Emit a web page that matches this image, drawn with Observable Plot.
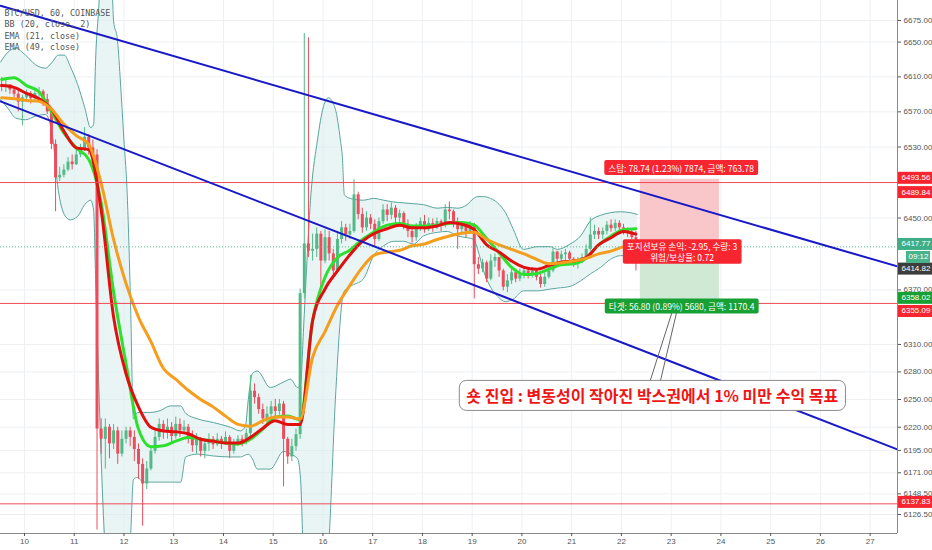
<!DOCTYPE html>
<html><head><meta charset="utf-8">
<script src="https://cdn.jsdelivr.net/npm/d3@7"></script>
<script src="https://cdn.jsdelivr.net/npm/@observablehq/plot@0.6"></script>
<style>body{margin:0;background:#fff;}</style>
</head><body><div id="chart"></div>
<script>
// ---------- axes ----------
const xTicks = [10,11,12,13,14,15,16,17,18,19,20,21,22,23,24,25,26,27];
const yTicks = [6675,6650,6610,6570,6530,6450,6370,6310,6280,6250,6220,6195,6171,6148.5,6126.5];
const xDomain = [9.518, 27.55];
const yDomain = [6106.3, 6698.2];

// ---------- BTC/USD candles (2h, July, day units) ----------
const candleStart = 9.5, candleStep = 1/12;
const open0 = 6601;
const closes = [
6598,6601,6595,6590,6581,6586,6591,6585,6591,6593,6584,6570,
6533,6495,6498,6504,6513,6510,6521,6527,6541,6529,6521,6218,
6207,6220,6202,6216,6191,6207,6216,6209,6196,6180,6159,6175,
6194,6209,6223,6215,6220,6210,6223,6216,6220,6209,6200,6207,
6194,6202,6207,6201,6207,6203,6209,6194,6202,6207,6204,6213,
6259,6252,6239,6229,6234,6242,6237,6245,6207,6188,6199,6212,
6366,6421,6413,6415,6432,6402,6428,6410,6391,6426,6439,6431,
6435,6476,6454,6439,6450,6443,6426,6446,6459,6453,6461,6450,
6455,6443,6435,6428,6439,6446,6437,6444,6439,6446,6442,6459,
6457,6446,6437,6442,6435,6442,6398,6393,6400,6382,6402,6406,
6391,6373,6380,6389,6382,6387,6391,6387,6391,6384,6376,6384,
6391,6412,6404,6409,6411,6404,6399,6402,6406,6415,6431,6435,
6431,6435,6442,6438,6444,6439,6437,6433,6428,6417.77];
const highs = [
6609,6607,6600,6597,6595,6589,6595,6593,6595,6598,6595,6590,
6573,6538,6507,6510,6518,6521,6529,6533,6552,6544,6538,6527,
6229,6229,6223,6223,6220,6216,6220,6220,6216,6202,6186,6183,
6199,6218,6229,6227,6229,6225,6231,6229,6227,6223,6216,6213,
6209,6207,6213,6210,6213,6210,6215,6211,6207,6211,6211,6218,
6276,6267,6256,6245,6242,6248,6250,6250,6248,6209,6207,6218,
6371,6660,6655,6432,6439,6435,6437,6435,6415,6435,6446,6443,
6443,6493,6479,6461,6457,6454,6448,6450,6465,6465,6467,6464,
6459,6457,6448,6442,6444,6450,6453,6450,6449,6450,6448,6465,
6468,6459,6450,6446,6444,6446,6444,6406,6404,6402,6409,6410,
6406,6393,6387,6393,6393,6393,6395,6394,6395,6393,6388,6389,
6397,6416,6413,6413,6415,6413,6406,6406,6410,6420,6450,6442,
6439,6439,6446,6448,6448,6447,6443,6439,6437,6435];
const lows = [
6593,6592,6590,6586,6570,6554,6582,6579,6582,6584,6576,6567,
6527,6457,6491,6495,6502,6504,6509,6518,6525,6521,6516,6110,
6191,6175,6186,6196,6180,6188,6202,6199,6183,6164,6114,6153,
6173,6191,6205,6207,6207,6202,6207,6209,6212,6202,6193,6191,
6188,6186,6194,6196,6199,6196,6201,6186,6191,6199,6199,6201,
6209,6245,6234,6223,6221,6229,6231,6233,6156,6180,6183,6194,
6207,6360,6406,6402,6406,6369,6399,6402,6382,6388,6421,6424,
6426,6433,6448,6433,6435,6437,6417,6424,6443,6446,6448,6444,
6442,6437,6428,6422,6424,6435,6433,6435,6434,6437,6435,6439,
6448,6439,6415,6431,6428,6433,6360,6387,6389,6378,6380,6395,
6384,6369,6367,6376,6378,6379,6382,6382,6383,6380,6372,6373,
6382,6389,6401,6400,6402,6399,6395,6393,6399,6404,6413,6426,
6426,6426,6431,6434,6435,6435,6431,6428,6426,6391];

// ---------- indicators (sampled every 6h) ----------
const lineStart = 9.5417, lineStep = 0.25;
const ema21 = [
6600,6598,6591,6585,6573,6548,6529,6527,6459,6340,
6278,6242,6220,6216,6215,6213,6207,6205,6203,6203,
6209,6219,6227,6223,6223,6336,6371,6391,6409,6424,
6433,6438,6442,6439,6439,6441,6445,6443,6437,6420,
6412,6402,6395,6393,6397,6401,6402,6406,6420,6428,
6435,6432];
const bbBasis = [
6607,6609,6600,6593,6570,6546,6529,6516,6467,6368,
6289,6218,6199,6200,6205,6209,6207,6205,6203,6202,
6207,6218,6231,6232,6228,6336,6384,6406,6414,6426,
6435,6442,6444,6441,6441,6442,6444,6445,6442,6427,
6411,6395,6387,6388,6393,6398,6399,6405,6420,6430,
6437,6438];
const ema49 = [
6586,6585,6583,6582,6573,6556,6543,6533,6489,6426,
6377,6340,6313,6284,6272,6260,6250,6242,6232,6223,
6221,6227,6231,6231,6229,6296,6324,6353,6375,6395,
6409,6412,6414,6419,6421,6426,6430,6433,6434,6426,
6420,6415,6410,6404,6399,6400,6402,6405,6410,6413,
6418,6422];

// ---------- Bollinger bands ----------
const bbT = [
9.52,9.68,9.82,10.02,10.22,10.42,10.56,10.68,10.80,10.92,
11.07,11.21,11.33,11.39,11.43,11.49,11.55,11.61,11.73,11.79,
11.87,11.93,11.99,12.07,12.13,12.19,12.27,12.39,12.53,12.73,
12.93,13.14,13.24,13.48,13.80,14.14,14.34,14.44,14.50,14.58,
14.68,14.94,15.21,15.35,15.49,15.55,15.61,15.67,15.75,15.89,
16.01,16.11,16.25,16.35,16.39,16.43,16.55,16.81,17.02,17.22,
17.42,17.62,17.82,18.02,18.30,18.50,18.70,18.90,19.03,19.11,
19.23,19.37,19.51,19.67,19.83,20.03,20.31,20.57,20.71,20.97,
21.18,21.38,21.58,21.78,21.98,22.18,22.32];
const bbUpper = [
6627,6639,6643,6635,6624,6620,6627,6635,6635,6622,
6601,6575,6552,6556,6630,6687,6744,6761,6766,6675,
6652,6603,6546,6470,6360,6229,6236,6236,6236,6238,
6243,6243,6235,6229,6225,6220,6216,6221,6250,6278,
6281,6263,6269,6272,6263,6267,6327,6393,6470,6538,
6576,6586,6573,6538,6519,6476,6472,6470,6472,6470,
6468,6467,6466,6465,6461,6462,6461,6465,6472,6474,
6474,6472,6467,6456,6437,6415,6418,6418,6415,6421,
6430,6447,6453,6456,6457,6456,6454];
const bbLower = [
6584,6573,6563,6561,6565,6567,6544,6481,6454,6448,
6452,6465,6470,6459,6382,6272,6175,6100,6036,6036,
6036,6036,6036,6057,6100,6164,6166,6161,6161,6161,
6161,6161,6188,6191,6189,6188,6188,6190,6191,6186,
6175,6175,6194,6191,6186,6164,6078,6036,6036,6036,
6036,6089,6250,6338,6360,6369,6374,6382,6408,6419,
6424,6424,6421,6430,6434,6435,6430,6428,6426,6415,
6391,6373,6363,6357,6360,6369,6369,6371,6372,6374,
6380,6388,6395,6404,6408,6408,6408];

// ---------- drawings ----------
const trendUpper = [[9.518, 6692], [27.55, 6396]];
const trendLower = [[9.518, 6582], [27.55, 6196]];
const hLines = [6489.84, 6355.09, 6137.83];
const lastPrice = 6417.77;
const posEntry = 6414.82, posStop = 6493.56, posTarget = 6358.02;
const posStart = 22.38, posEnd = 23.97;
const tagValues = [6493.56, 6489.84, 6417.77, 6414.82, 6358.02, 6355.09, 6137.83];
const countdown = "09:12";
const legendLines = ["BTC/USD, 60, COINBASE", "BB (20, close, 2)", "EMA (21, close)", "EMA (49, close)"];
const stopText = "스탑: 78.74 (1.23%) 7874, 금액: 763.78";
const midLine1 = "포지션보유 손익: -2.95, 수량: 3";
const midLine2 = "위험/보상율: 0.72";
const targetText = "타겟: 56.80 (0.89%) 5680, 금액: 1170.4";
const noteText = "숏 진입 : 변동성이 작아진 박스권에서 1% 미만 수익 목표";
const labelAnchors = {stop: [23.20, 6505.3], mid: [23.22, 6411.4], target: [23.21, 6350.9], note: [22.62, 6252.4]};
const calloutA = [[22.523, 6261], [23.065, 6353.6]];
const calloutB = [[22.744, 6261], [23.146, 6353.6]];

// ---------- styles ----------
const UP = "#53b987", DOWN = "#eb4d5c", RED = "#f7252f";
const tagDy = [-1.5, 9.5, -3, 19, -3, 7.5, -2];
const tagColors = [RED, RED, "#3fae86", "#3d3d3d", "#17a034", RED, RED];
const KR = "Noto Sans CJK KR, sans-serif";
const LABEL_FS = 8.6;

const candles = closes.map((c, i) => ({
  t: candleStart + (i + 0.5) * candleStep,
  o: i ? closes[i - 1] : open0, c, h: highs[i], l: lows[i]
}));
const upC = candles.filter(d => d.c >= d.o), dnC = candles.filter(d => d.c < d.o);
const lt = (d, i) => lineStart + i * lineStep;
const fmt = d3.format(".2f");

const marks = [
  Plot.ruleX(xTicks, {x: d => d, stroke: "#eef0f3"}),
  Plot.ruleY(yTicks, {y: d => d, stroke: "#eef0f3"}),
  Plot.areaY(bbT, {x: d => d, y1: (d, i) => bbLower[i], y2: (d, i) => bbUpper[i], fill: "#d3ecec", fillOpacity: 0.5, curve: "monotone-x", clip: true}),
  Plot.line(bbT, {x: d => d, y: (d, i) => bbUpper[i], stroke: "#5aa59d", strokeWidth: 1, curve: "monotone-x", clip: true}),
  Plot.line(bbT, {x: d => d, y: (d, i) => bbLower[i], stroke: "#5aa59d", strokeWidth: 1, curve: "monotone-x", clip: true}),
  Plot.ruleX(upC, {x: "t", y1: "l", y2: "h", stroke: UP, strokeWidth: 1, clip: true}),
  Plot.ruleX(dnC, {x: "t", y1: "l", y2: "h", stroke: DOWN, strokeWidth: 1, clip: true}),
  Plot.ruleX(upC, {x: "t", y1: "o", y2: "c", stroke: UP, strokeWidth: 3, clip: true}),
  Plot.ruleX(dnC, {x: "t", y1: "o", y2: "c", stroke: DOWN, strokeWidth: 3, clip: true}),
  Plot.line(bbBasis, {x: lt, y: d => d, stroke: "#2ee02e", strokeWidth: 3, curve: "monotone-x", clip: true}),
  Plot.line(ema21, {x: lt, y: d => d, stroke: "#e01010", strokeWidth: 3, curve: "monotone-x", clip: true}),
  Plot.line(ema49, {x: lt, y: d => d, stroke: "#f59d1c", strokeWidth: 3, curve: "monotone-x", clip: true}),
  Plot.rect([0], {x1: () => posStart, x2: () => posEnd, y1: () => posEntry, y2: () => posStop, fill: "#f9c6ca"}),
  Plot.rect([0], {x1: () => posStart, x2: () => posEnd, y1: () => posTarget, y2: () => posEntry, fill: "#cfe9d4"}),
  Plot.ruleY(hLines, {y: d => d, stroke: "#ef4b55", strokeWidth: 1}),
  Plot.ruleY([lastPrice], {y: d => d, stroke: UP, strokeWidth: 1, strokeDasharray: "1,2"}),
  Plot.line(trendUpper, {x: d => d[0], y: d => d[1], stroke: "#1818c8", strokeWidth: 2, clip: true}),
  Plot.line(trendLower, {x: d => d[0], y: d => d[1], stroke: "#1818c8", strokeWidth: 2, clip: true}),
  Plot.line(calloutA, {x: d => d[0], y: d => d[1], stroke: "#666", strokeWidth: 1}),
  Plot.line(calloutB, {x: d => d[0], y: d => d[1], stroke: "#666", strokeWidth: 1}),
  Plot.text([noteText], {x: () => labelAnchors.note[0], y: () => labelAnchors.note[1], text: d => d, fill: "#f01414", fontSize: 16, fontWeight: "bold", fontFamily: KR}),
  Plot.text([stopText], {x: () => labelAnchors.stop[0], y: () => labelAnchors.stop[1], text: d => d, fill: "white", fontSize: LABEL_FS, fontFamily: KR}),
  Plot.text([midLine1], {x: () => labelAnchors.mid[0], y: () => labelAnchors.mid[1], dy: -5, text: d => d, fill: "white", fontSize: LABEL_FS, fontFamily: KR}),
  Plot.text([midLine2], {x: () => labelAnchors.mid[0], y: () => labelAnchors.mid[1], dy: 5.5, text: d => d, fill: "white", fontSize: LABEL_FS, fontFamily: KR}),
  Plot.text([targetText], {x: () => labelAnchors.target[0], y: () => labelAnchors.target[1], text: d => d, fill: "white", fontSize: LABEL_FS, fontFamily: KR}),
  Plot.ruleX([xDomain[1]], {x: d => d, stroke: "#8a8a8a"}),
  Plot.ruleY([yDomain[0]], {y: d => d, stroke: "#8a8a8a"}),
  Plot.axisY(yTicks, {anchor: "right", tickSize: 3, tickPadding: 3, tickFormat: fmt, fontSize: 8, color: "#555", label: null}),
  Plot.axisX(xTicks, {anchor: "bottom", tickSize: 3, tickPadding: 2, tickFormat: d => String(d), fontSize: 8, color: "#555", label: null}),
  ...tagValues.map((v, i) => Plot.text([v], {y: d => d, frameAnchor: "right", textAnchor: "start", dx: 4, dy: tagDy[i], text: d => fmt(d), fill: "white", fontSize: 8})),
  Plot.text([lastPrice], {y: d => d, frameAnchor: "right", textAnchor: "start", dx: 11, dy: 10, text: () => countdown, fill: "white", fontSize: 8}),
  Plot.text([legendLines.join("\n")], {frameAnchor: "top-left", dx: 4, dy: 7, text: d => d, fill: "#555", fontSize: 8.4, lineHeight: 1.37, fontFamily: "DejaVu Sans Mono, monospace"})
];

const chart = Plot.plot({
  width: 932, height: 550,
  marginTop: 0, marginRight: 35, marginBottom: 17, marginLeft: 0,
  style: {fontFamily: "Liberation Sans, Arial, sans-serif", background: "#fff", overflow: "visible"},
  x: {domain: xDomain, type: "linear"},
  y: {domain: yDomain, type: "log"},
  marks
});
document.getElementById("chart").append(chart);

// backgrounds for label texts
const NS = "http://www.w3.org/2000/svg";
function addBg(t, o) {
  const b = t.getBBox();
  const r = document.createElementNS(NS, "rect");
  r.setAttribute("x", o.x != null ? o.x : b.x - o.px);
  r.setAttribute("y", o.y != null ? o.y : b.y - o.py);
  r.setAttribute("width", o.w != null ? o.w : b.width + 2 * o.px);
  r.setAttribute("height", o.h != null ? o.h : b.height + 2 * o.py);
  r.setAttribute("fill", o.fill);
  if (o.stroke) r.setAttribute("stroke", o.stroke);
  r.setAttribute("rx", o.rx || 0);
  const tr = t.getAttribute("transform");
  if (tr) r.setAttribute("transform", tr);
  t.parentNode.insertBefore(r, t);
  return r;
}
const tagMap = new Map(tagValues.map((v, i) => [fmt(v), tagColors[i]]));
const svg = chart.tagName.toLowerCase() === "svg" ? chart : chart.querySelector("svg");
const right = 932 - 35;
let mid1 = null, mid2 = null;
svg.querySelectorAll("text").forEach(t => {
  const s = t.textContent;
  const inAxis = t.closest("g[aria-label^='y-axis']");
  if (!inAxis && tagMap.has(s)) {
    const m = t.getCTM();
    addBg(t, {x: right + 1 - m.e, w: 34, py: 1.5, fill: tagMap.get(s)});
  } else if (s === countdown) {
    const m = t.getCTM();
    addBg(t, {x: right + 9 - m.e, w: 24, py: 1.5, fill: "#49b48c"});
  } else if (s === stopText) addBg(t, {px: 4, py: 1.5, fill: RED, rx: 2});
  else if (s === midLine1) mid1 = t;
  else if (s === midLine2) mid2 = t;
  else if (s === targetText) addBg(t, {px: 4, py: 1.5, fill: "#17a034", rx: 2});
  else if (s === noteText) addBg(t, {px: 7, py: 3, fill: "#fff", stroke: "#8a8a8a", rx: 7});
});
// one box behind both lines of the middle label
if (mid1 && mid2) {
  const a = mid1.getBoundingClientRect(), b = mid2.getBoundingClientRect();
  const s = svg.getBoundingClientRect();
  const x0 = Math.min(a.left, b.left) - 4 - s.left, x1 = Math.max(a.right, b.right) + 4 - s.left;
  const y0 = a.top - 1 - s.top, y1 = b.bottom + 1 - s.top;
  const r = document.createElementNS(NS, "rect");
  r.setAttribute("x", x0); r.setAttribute("y", y0);
  r.setAttribute("width", x1 - x0); r.setAttribute("height", y1 - y0);
  r.setAttribute("fill", RED); r.setAttribute("rx", 2);
  const g = mid1.closest("g");
  g.parentNode.insertBefore(r, g);
}
</script></body></html>
